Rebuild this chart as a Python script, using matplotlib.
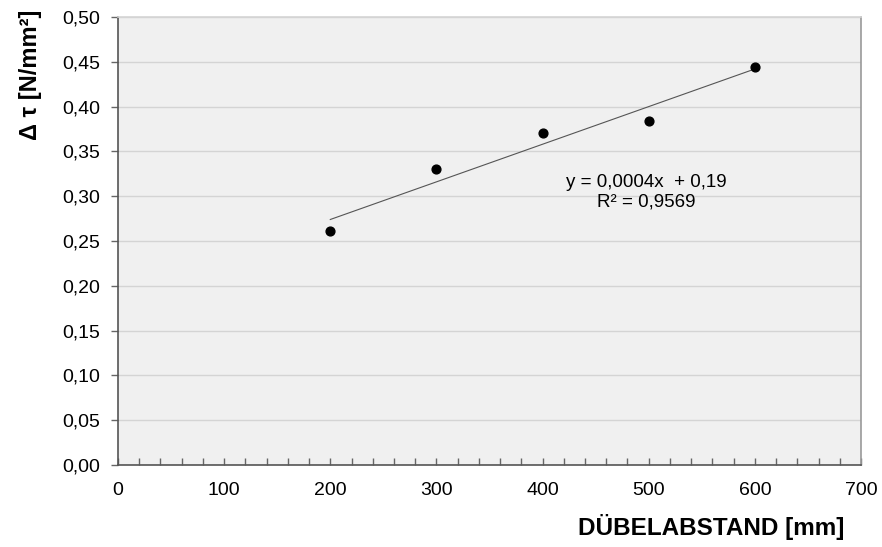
import numpy as np
import matplotlib
matplotlib.use('Agg')
import matplotlib.pyplot as plt
from matplotlib.ticker import MultipleLocator, FuncFormatter

plt.rcParams['font.family'] = ['Liberation Sans', 'DejaVu Sans']

# data
abstand = np.array([200, 300, 400, 500, 600])
dtau = np.array([0.261, 0.330, 0.371, 0.384, 0.444])

# linear trend
slope, icpt = np.polyfit(abstand, dtau, 1)
fit_x = np.array([abstand.min(), abstand.max()])
fit_y = slope * fit_x + icpt

fig = plt.figure(figsize=(8.82, 5.47), dpi=100)
ax = fig.add_axes([118/882, 1 - 465/547, (861-118)/882, (465-17)/547])
ax.set_facecolor('#f0f0f0')

ax.plot(fit_x, fit_y, color='#555555', linewidth=0.8, zorder=2)
ax.scatter(abstand, dtau, s=40, color='black', zorder=3)

ax.set_xlim(0, 700)
ax.set_ylim(0, 0.5)
ax.xaxis.set_major_locator(MultipleLocator(100))
ax.xaxis.set_minor_locator(MultipleLocator(20))
ax.yaxis.set_major_locator(MultipleLocator(0.05))

comma = lambda v, p: f'{v:.2f}'.replace('.', ',')
ax.yaxis.set_major_formatter(FuncFormatter(comma))

ax.grid(axis='y', color='#d4d4d4', linewidth=1.0)
ax.set_axisbelow(True)

ax.tick_params(axis='x', which='both', direction='in', length=5, width=1,
               color='#666666', labelsize=14, pad=12)
ax.tick_params(axis='y', direction='out', length=5, width=1,
               color='#666666', labelsize=14, pad=8)

ax.spines['left'].set_color('#555555')
ax.spines['bottom'].set_color('#555555')
ax.spines['top'].set_color('#d4d4d4')
ax.spines['right'].set_color('#999999')
for s in ax.spines.values():
    s.set_linewidth(1.2)

ax.text(498, 0.304, 'y = 0,0004x  + 0,19\nR² = 0,9569', ha='center', va='center',
        fontsize=13.5, linespacing=1.2)

fig.text(711/882, 1 - 527/547, 'DÜBELABSTAND [mm]', ha='center', va='center',
         fontsize=17.5, fontweight='bold')
fig.text(30/882, 1 - 75/547, 'Δ τ [N/mm²]', ha='center', va='center',
         fontsize=17, fontweight='bold', rotation=90)

fig.savefig('out.png', dpi=100)
